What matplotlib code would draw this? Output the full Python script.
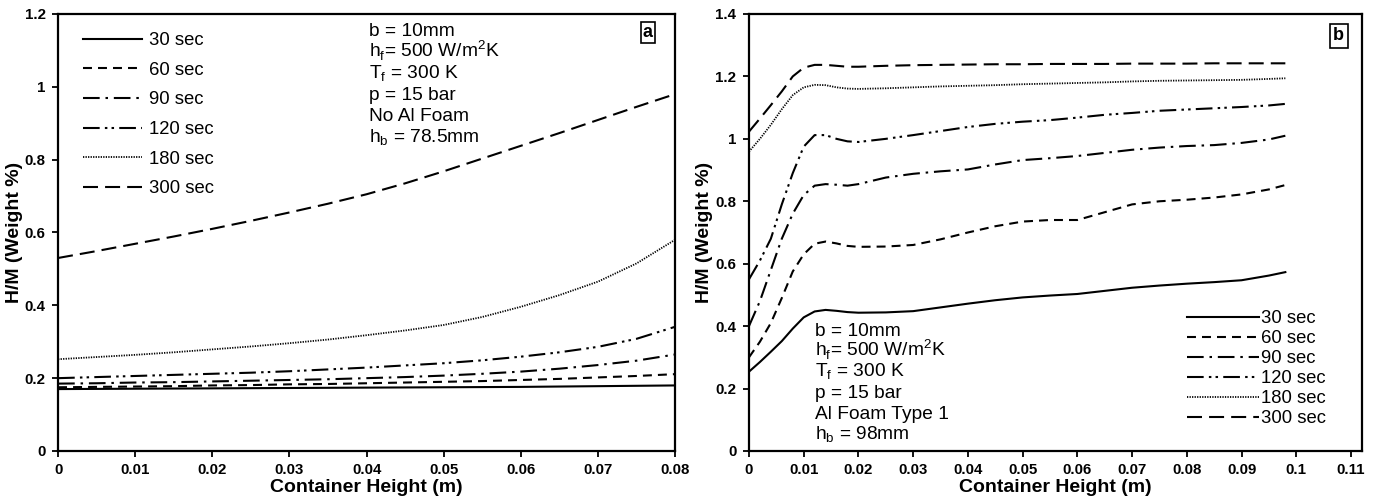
import numpy as np
import matplotlib
matplotlib.use('Agg')
import matplotlib.pyplot as plt
from matplotlib.ticker import FuncFormatter

plt.rcParams['font.family'] = ['Liberation Sans', 'DejaVu Sans']
plt.rcParams['mathtext.fontset'] = 'custom'
plt.rcParams['mathtext.rm'] = 'Liberation Sans'

########################################################################
# data

labels = ['30 sec', '60 sec', '90 sec', '120 sec', '180 sec', '300 sec']

# panel a : no Al foam
x_a = [0, 0.005, 0.01, 0.015, 0.02, 0.025, 0.03, 0.035, 0.04, 0.045,
       0.05, 0.055, 0.06, 0.065, 0.07, 0.075, 0.08]
a_30 = [0.170, 0.1705, 0.171, 0.1715, 0.172, 0.1725, 0.173, 0.1735, 0.174,
        0.1745, 0.175, 0.1755, 0.176, 0.177, 0.178, 0.179, 0.180]
a_60 = [0.175, 0.176, 0.177, 0.178, 0.180, 0.181, 0.183, 0.184, 0.186,
        0.188, 0.190, 0.192, 0.195, 0.198, 0.202, 0.206, 0.211]
a_90 = [0.185, 0.186, 0.188, 0.189, 0.191, 0.193, 0.195, 0.197, 0.200,
        0.203, 0.207, 0.212, 0.218, 0.226, 0.236, 0.248, 0.265]
a_120 = [0.200, 0.203, 0.206, 0.209, 0.212, 0.215, 0.219, 0.224, 0.229,
         0.235, 0.241, 0.249, 0.259, 0.271, 0.286, 0.308, 0.341]
a_180 = [0.252, 0.258, 0.264, 0.271, 0.279, 0.287, 0.296, 0.306, 0.318,
         0.331, 0.346, 0.368, 0.396, 0.428, 0.465, 0.515, 0.580]
a_300 = [0.530, 0.549, 0.569, 0.589, 0.610, 0.632, 0.655, 0.679, 0.705,
         0.735, 0.768, 0.803, 0.838, 0.873, 0.909, 0.945, 0.980]

# panel b : Al foam type 1
x_b = [0, 0.002, 0.004, 0.006, 0.008, 0.010, 0.012, 0.014, 0.016, 0.018,
       0.020, 0.025, 0.030, 0.035, 0.040, 0.045, 0.050, 0.055, 0.060,
       0.065, 0.070, 0.075, 0.080, 0.085, 0.090, 0.095, 0.098]
b_30 = [0.254, 0.285, 0.318, 0.352, 0.392, 0.428, 0.447, 0.452, 0.449,
        0.445, 0.443, 0.444, 0.448, 0.460, 0.472, 0.483, 0.492, 0.498,
        0.503, 0.513, 0.523, 0.530, 0.536, 0.541, 0.547, 0.562, 0.573]
b_60 = [0.300, 0.350, 0.410, 0.490, 0.575, 0.630, 0.664, 0.671, 0.665,
        0.657, 0.654, 0.655, 0.660, 0.678, 0.700, 0.720, 0.735, 0.740,
        0.740, 0.765, 0.790, 0.800, 0.805, 0.812, 0.822, 0.838, 0.852]
b_90 = [0.400, 0.480, 0.580, 0.680, 0.760, 0.820, 0.850, 0.855, 0.853,
        0.850, 0.855, 0.876, 0.888, 0.896, 0.902, 0.918, 0.932, 0.938,
        0.945, 0.955, 0.965, 0.972, 0.977, 0.980, 0.987, 0.998, 1.010]
b_120 = [0.550, 0.610, 0.680, 0.790, 0.890, 0.975, 1.012, 1.012, 1.000,
         0.992, 0.990, 1.000, 1.012, 1.025, 1.038, 1.048, 1.055, 1.060,
         1.068, 1.077, 1.083, 1.090, 1.094, 1.098, 1.102, 1.107, 1.112]
b_180 = [0.959, 1.000, 1.045, 1.095, 1.140, 1.165, 1.173, 1.172, 1.165,
         1.161, 1.160, 1.162, 1.165, 1.168, 1.170, 1.172, 1.175, 1.177,
         1.179, 1.181, 1.184, 1.186, 1.187, 1.188, 1.189, 1.192, 1.194]
b_300 = [1.023, 1.065, 1.108, 1.152, 1.200, 1.228, 1.237, 1.237, 1.234,
         1.231, 1.231, 1.234, 1.236, 1.237, 1.238, 1.239, 1.239, 1.240,
         1.240, 1.240, 1.241, 1.241, 1.241, 1.242, 1.242, 1.242, 1.242]

########################################################################

styles = ['-', (0, (4.3, 2.9)), (0, (8, 2.8, 1.2, 2.8)),
          (0, (8, 2.5, 1.2, 2, 1.2, 2.5)), (0, (0.7, 0.7)), (0, (7.2, 3.4))]
widths = [1.5, 1.5, 1.5, 1.5, 1.3, 1.5]

lines_a = ['b = 10mm',
           'h$_\\mathregular{f}$= 500 W/m$^\\mathregular{2}$K',
           'T$_\\mathregular{f}$ = 300 K',
           'p = 15 bar',
           'No Al Foam',
           'h$_\\mathregular{b}$ = 78.5mm']
lines_b = ['b = 10mm',
           'h$_\\mathregular{f}$= 500 W/m$^\\mathregular{2}$K',
           'T$_\\mathregular{f}$ = 300 K',
           'p = 15 bar',
           'Al Foam Type 1',
           'h$_\\mathregular{b}$ = 98mm']


def text_block(ax, x, y0, step, lines):
    for i, s in enumerate(lines):
        ax.text(x, y0 - i*step, s, transform=ax.transAxes, fontsize=13.8,
                va='baseline', ha='left')


fmt = FuncFormatter(lambda v, p: f'{v:g}')

fig = plt.figure(figsize=(13.76, 4.98), dpi=100)
ax1 = fig.add_axes([0.0422, 0.0944, 0.4484, 0.8775])
ax2 = fig.add_axes([0.5443, 0.0944, 0.4455, 0.8775])

for ax in (ax1, ax2):
    for s in ax.spines.values():
        s.set_linewidth(1.6)
    ax.tick_params(direction='out', length=4, width=1.3, labelsize=10.8,
                   top=False, right=False, pad=5)
    ax.set_xlabel('Container Height (m)', fontsize=14, fontweight='bold', labelpad=1)
    ax.set_ylabel('H/M (Weight %)', fontsize=14, fontweight='bold')
    ax.xaxis.set_major_formatter(fmt)
    ax.yaxis.set_major_formatter(fmt)

series_a = [a_30, a_60, a_90, a_120, a_180, a_300]
for y, lab, ls, lw in zip(series_a, labels, styles, widths):
    ax1.plot(x_a, y, color='black', linestyle=ls, linewidth=lw, label=lab)
ax1.set_xlim(0, 0.08)
ax1.set_ylim(0, 1.2)
ax1.set_xticks(np.arange(0, 0.0801, 0.01))
ax1.set_yticks(np.arange(0, 1.21, 0.2))
ax1.yaxis.set_label_coords(-0.057, 0.5)
ax1.legend(loc='upper left', bbox_to_anchor=(0.04, 0.958), frameon=False,
           fontsize=13.3, handlelength=3.2, handletextpad=0.4,
           labelspacing=0.68, borderpad=0, borderaxespad=0)
text_block(ax1, 0.504, 0.950, 0.049, lines_a)
ax1.text(0.956, 0.957, 'a', transform=ax1.transAxes, fontsize=13,
         fontweight='bold', ha='center', va='center',
         bbox=dict(boxstyle='square,pad=0.12', fc='white', ec='black', lw=1.2))

series_b = [b_30, b_60, b_90, b_120, b_180, b_300]
for y, lab, ls, lw in zip(series_b, labels, styles, widths):
    ax2.plot(x_b, y, color='black', linestyle=ls, linewidth=lw, label=lab)
ax2.set_xlim(0, 0.112)
ax2.set_ylim(0, 1.4)
ax2.set_xticks(np.arange(0, 0.1101, 0.01))
ax2.set_yticks(np.arange(0, 1.41, 0.2))
ax2.yaxis.set_label_coords(-0.059, 0.5)
ax2.legend(loc='upper left', bbox_to_anchor=(0.7145, 0.322), frameon=False,
           fontsize=13.3, handlelength=3.9, handletextpad=0.1,
           labelspacing=0.16, borderpad=0, borderaxespad=0)
text_block(ax2, 0.108, 0.264, 0.0475, lines_b)
ax2.text(0.962, 0.95, 'b', transform=ax2.transAxes, fontsize=13,
         fontweight='bold', ha='center', va='center',
         bbox=dict(boxstyle='square,pad=0.2', fc='white', ec='black', lw=1.2))

for ax in (ax1, ax2):
    for t in ax.get_xticklabels() + ax.get_yticklabels():
        t.set_fontweight('bold')

fig.savefig('out.png', dpi=100)
